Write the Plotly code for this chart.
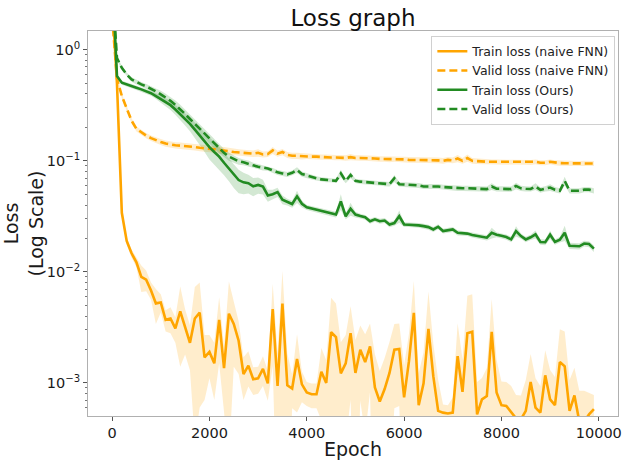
import plotly.graph_objects as go

epochs = list(range(0, 10000, 100))

train_naive = [3.0, 0.50, 0.034, 0.019, 0.0147, 0.0122, 0.0090, 0.0085, 0.0068, 0.0052,
               0.0053, 0.0037, 0.0038, 0.0031, 0.0044, 0.0032, 0.0023, 0.0038, 0.0043, 0.0017,
               0.0019, 0.0015, 0.0037, 0.00136, 0.0042, 0.0034, 0.0024, 0.0012, 0.00143, 0.00108,
               0.00110, 0.00134, 0.00099, 0.00462, 0.00094, 0.00518, 0.00095, 0.00089, 0.00164, 0.00097,
               0.00082, 0.00079, 0.00079, 0.00126, 0.00100, 0.00286, 0.00258, 0.00122, 0.00150, 0.00280,
               0.00123, 0.00199, 0.00154, 0.00213, 0.00091, 0.00068, 0.00088, 0.00123, 0.00199, 0.00202,
               0.00074, 0.00157, 0.00428, 0.00063, 0.00099, 0.00306, 0.00115, 0.00056, 0.00054, 0.00053,
               0.00054, 0.00174, 0.00083, 0.00280, 0.00289, 0.00052, 0.00071, 0.00076, 0.00289, 0.00082,
               0.00063, 0.00062, 0.00054, 0.00048, 0.00047, 0.00056, 0.00102, 0.00060, 0.00054, 0.00117,
               0.00071, 0.00063, 0.00154, 0.00141, 0.00056, 0.00077, 0.00045, 0.00045, 0.00052, 0.00058]
train_naive_std = [0.5, 0.05, 0.003, 0.0015, 0.0012, 0.0012, 0.0024, 0.0018, 0.0012, 0.0018,
                   0.0010, 0.0008, 0.0010, 0.0008, 0.0030, 0.0014, 0.0010, 0.0035, 0.0037, 0.0010,
                   0.0008, 0.0008, 0.0022, 0.0008, 0.0040, 0.0020, 0.0012, 0.0005, 0.0005, 0.0003,
                   0.0003, 0.0004, 0.0003, 0.0032, 0.0009, 0.0050, 0.0009, 0.0003, 0.0011, 0.0003,
                   0.0002, 0.0002, 0.0002, 0.0008, 0.0006, 0.0030, 0.0026, 0.0011, 0.0012, 0.0021,
                   0.0012, 0.0013, 0.0012, 0.0013, 0.0009, 0.0006, 0.0008, 0.0011, 0.0014, 0.0014,
                   0.0007, 0.0012, 0.0040, 0.0006, 0.0009, 0.0036, 0.0011, 0.0005, 0.0001, 0.0001,
                   0.0002, 0.0017, 0.0008, 0.0033, 0.0034, 0.0005, 0.0004, 0.0006, 0.0028, 0.0008,
                   0.0004, 0.0004, 0.0004, 0.0003, 0.0003, 0.0005, 0.0008, 0.0005, 0.0004, 0.0008,
                   0.0006, 0.0005, 0.0015, 0.0015, 0.0005, 0.0006, 0.0004, 0.0004, 0.0003, 0.0002]

valid_naive = [2.0, 0.55, 0.384, 0.292, 0.230, 0.194, 0.180, 0.169, 0.160, 0.153,
               0.148, 0.143, 0.140, 0.138, 0.137, 0.136, 0.134, 0.133, 0.131, 0.130,
               0.128, 0.127, 0.125, 0.124, 0.122, 0.120, 0.119, 0.118, 0.117, 0.116,
               0.118, 0.114, 0.115, 0.124, 0.116, 0.120, 0.113, 0.111, 0.111, 0.110,
               0.110, 0.109, 0.109, 0.108, 0.108, 0.107, 0.107, 0.107, 0.106, 0.108,
               0.106, 0.106, 0.106, 0.105, 0.105, 0.104, 0.104, 0.103, 0.104, 0.103,
               0.103, 0.102, 0.102, 0.102, 0.101, 0.101, 0.101, 0.101, 0.100, 0.102,
               0.101, 0.105, 0.100, 0.106, 0.100, 0.099, 0.099, 0.098, 0.098, 0.098,
               0.097, 0.097, 0.097, 0.0966, 0.0966, 0.097, 0.0965, 0.098, 0.096, 0.096,
               0.098, 0.096, 0.0955, 0.095, 0.095, 0.095, 0.0948, 0.095, 0.0946, 0.0946]
valid_naive_std = [0.2, 0.03, 0.02, 0.015, 0.012, 0.010, 0.009, 0.009, 0.009, 0.009,
                   0.009, 0.009, 0.009, 0.009, 0.009, 0.009, 0.009, 0.009, 0.009, 0.009,
                   0.009, 0.009, 0.009, 0.009, 0.009, 0.008, 0.008, 0.008, 0.008, 0.008,
                   0.009, 0.007, 0.007, 0.009, 0.007, 0.008, 0.007, 0.007, 0.007, 0.007,
                   0.006, 0.006, 0.006, 0.006, 0.006, 0.006, 0.006, 0.006, 0.006, 0.007,
                   0.006, 0.006, 0.006, 0.006, 0.006, 0.006, 0.006, 0.006, 0.006, 0.006,
                   0.006, 0.006, 0.006, 0.006, 0.006, 0.006, 0.006, 0.006, 0.006, 0.006,
                   0.006, 0.008, 0.006, 0.008, 0.006, 0.006, 0.006, 0.005, 0.005, 0.005,
                   0.005, 0.005, 0.005, 0.005, 0.005, 0.005, 0.005, 0.005, 0.005, 0.005,
                   0.005, 0.005, 0.005, 0.005, 0.005, 0.005, 0.005, 0.005, 0.005, 0.005]

train_ours = [5.0, 0.579, 0.505, 0.485, 0.471, 0.455, 0.440, 0.423, 0.406, 0.383,
              0.359, 0.338, 0.317, 0.290, 0.264, 0.238, 0.215, 0.191, 0.169, 0.150,
              0.133, 0.120, 0.109, 0.096, 0.0854, 0.075, 0.0671, 0.0640, 0.0628, 0.0590,
              0.0606, 0.0587, 0.0488, 0.0500, 0.0522, 0.0446, 0.0425, 0.0408, 0.0478, 0.0410,
              0.0381, 0.0372, 0.0363, 0.0353, 0.0344, 0.0335, 0.0328, 0.0431, 0.0317, 0.0370,
              0.0328, 0.0318, 0.0310, 0.0286, 0.0297, 0.0286, 0.0290, 0.0267, 0.0275, 0.0317,
              0.0267, 0.0266, 0.0265, 0.0262, 0.0258, 0.0253, 0.0241, 0.0255, 0.0233, 0.0237,
              0.0241, 0.0225, 0.0223, 0.0221, 0.0215, 0.0210, 0.0207, 0.0203, 0.0225, 0.0216,
              0.0211, 0.0206, 0.0196, 0.0233, 0.0210, 0.0196, 0.0205, 0.0218, 0.0186, 0.0185,
              0.0216, 0.0186, 0.0195, 0.0225, 0.0172, 0.0171, 0.0170, 0.0180, 0.0178, 0.0162]
train_ours_std = [0.5, 0.02, 0.02, 0.02, 0.02, 0.02, 0.02, 0.02, 0.02, 0.022,
                  0.025, 0.028, 0.030, 0.030, 0.030, 0.030, 0.030, 0.030, 0.030, 0.030,
                  0.030, 0.028, 0.025, 0.022, 0.020, 0.018, 0.016, 0.014, 0.012, 0.011,
                  0.010, 0.009, 0.006, 0.005, 0.005, 0.004, 0.003, 0.003, 0.006, 0.003,
                  0.002, 0.002, 0.002, 0.002, 0.002, 0.002, 0.002, 0.007, 0.002, 0.005,
                  0.002, 0.0015, 0.0015, 0.0015, 0.0015, 0.0015, 0.0015, 0.0015, 0.0015, 0.004,
                  0.0013, 0.0013, 0.0013, 0.0013, 0.0013, 0.0013, 0.0013, 0.0013, 0.0012, 0.0012,
                  0.0012, 0.0012, 0.0011, 0.0011, 0.0011, 0.0011, 0.0011, 0.0011, 0.0025, 0.0011,
                  0.0011, 0.0011, 0.0011, 0.0025, 0.0011, 0.0011, 0.0011, 0.0018, 0.0011, 0.0011,
                  0.0018, 0.0011, 0.0011, 0.0035, 0.0011, 0.0011, 0.0011, 0.0011, 0.0011, 0.0011]

valid_ours = [4.0, 0.843, 0.687, 0.600, 0.541, 0.512, 0.488, 0.468, 0.447, 0.422,
              0.397, 0.372, 0.347, 0.319, 0.292, 0.264, 0.238, 0.215, 0.194, 0.175,
              0.158, 0.143, 0.129, 0.118, 0.109, 0.104, 0.099, 0.097, 0.0946, 0.091,
              0.0884, 0.087, 0.0854, 0.082, 0.0787, 0.077, 0.0755, 0.078, 0.0825, 0.076,
              0.0735, 0.071, 0.0696, 0.068, 0.0672, 0.067, 0.066, 0.077, 0.0658, 0.0745,
              0.066, 0.0649, 0.0645, 0.0641, 0.0635, 0.0628, 0.062, 0.0616, 0.0696, 0.0616,
              0.0612, 0.061, 0.0606, 0.060, 0.0587, 0.059, 0.0588, 0.0587, 0.058, 0.0575,
              0.057, 0.0566, 0.0566, 0.0566, 0.0563, 0.056, 0.0558, 0.0556, 0.0587, 0.056,
              0.056, 0.056, 0.0556, 0.0594, 0.0565, 0.056, 0.0558, 0.0587, 0.0547, 0.056,
              0.0575, 0.055, 0.0537, 0.0658, 0.0537, 0.0537, 0.0537, 0.055, 0.055, 0.0537]
valid_ours_std = [0.4, 0.03, 0.03, 0.025, 0.025, 0.025, 0.025, 0.025, 0.025, 0.028,
                  0.030, 0.030, 0.030, 0.030, 0.028, 0.026, 0.024, 0.022, 0.020, 0.018,
                  0.016, 0.014, 0.012, 0.010, 0.009, 0.008, 0.007, 0.006, 0.006, 0.005,
                  0.005, 0.005, 0.004, 0.004, 0.004, 0.004, 0.004, 0.004, 0.005, 0.004,
                  0.004, 0.003, 0.003, 0.003, 0.003, 0.003, 0.003, 0.006, 0.003, 0.005,
                  0.003, 0.003, 0.003, 0.003, 0.003, 0.003, 0.003, 0.003, 0.005, 0.003,
                  0.003, 0.003, 0.003, 0.003, 0.003, 0.003, 0.003, 0.003, 0.003, 0.003,
                  0.003, 0.003, 0.003, 0.003, 0.003, 0.003, 0.003, 0.003, 0.004, 0.003,
                  0.003, 0.003, 0.003, 0.004, 0.003, 0.003, 0.003, 0.004, 0.003, 0.003,
                  0.004, 0.003, 0.003, 0.006, 0.003, 0.003, 0.003, 0.003, 0.003, 0.003]

series_names = ["Train loss (naive FNN)", "Valid loss (naive FNN)", "Train loss (Ours)", "Valid loss (Ours)"]
y_ticks = [1, 0.1, 0.01, 0.001]
y_tick_text = ["10<sup>0</sup>", "10<sup>\u22121</sup>", "10<sup>\u22122</sup>", "10<sup>\u22123</sup>"]
x_ticks = [0, 2000, 4000, 6000, 8000, 10000]
x_tick_text = ["0", "2000", "4000", "6000", "8000", "10000"]

ORANGE = "#FFA500"
GREEN = "#228B22"
FILL_O = "rgba(255,165,0,0.2)"
FILL_G = "rgba(34,139,34,0.2)"

series = [
    (train_naive, train_naive_std, ORANGE, FILL_O, "solid", series_names[0]),
    (valid_naive, valid_naive_std, ORANGE, FILL_O, "8px,4px", series_names[1]),
    (train_ours, train_ours_std, GREEN, FILL_G, "solid", series_names[2]),
    (valid_ours, valid_ours_std, GREEN, FILL_G, "8px,4px", series_names[3]),
]

fig = go.Figure()
for mean, std, col, fcol, dash, name in series:
    upper = [m + s for m, s in zip(mean, std)]
    lower = [max(m - s, 1e-6) for m, s in zip(mean, std)]
    fig.add_trace(go.Scatter(x=epochs, y=upper, mode="lines", line=dict(width=0, color=fcol),
                             showlegend=False, hoverinfo="skip"))
    fig.add_trace(go.Scatter(x=epochs, y=lower, mode="lines", line=dict(width=0, color=fcol),
                             fill="tonexty", fillcolor=fcol, showlegend=False, hoverinfo="skip"))

for mean, std, col, fcol, dash, name in series:
    fig.add_trace(go.Scatter(x=epochs, y=mean, mode="lines", name=name,
                             line=dict(color=col, width=2.6, dash=dash)))

minor_vals = []
for e in [1e-4, 1e-3, 1e-2, 1e-1, 1]:
    for m in range(2, 10):
        minor_vals.append(m * e)

axis_col = "#b0b0b0"
fig.update_layout(
    width=623, height=460,
    margin=dict(l=88, r=1, t=31, b=40),
    paper_bgcolor="white", plot_bgcolor="white",
    font=dict(family="DejaVu Sans", color="#1a1a1a"),
    title=dict(text="Loss graph", x=0.5, xref="paper", y=0.962, yref="container",
               yanchor="middle", font=dict(size=23, color="#111")),
    legend=dict(x=0.995, y=0.988, xanchor="right", yanchor="top", traceorder="normal",
                bgcolor="rgba(255,255,255,0.8)", bordercolor="#d0d0d0", borderwidth=1,
                font=dict(size=12.5, color="#222"), tracegroupgap=0, itemwidth=30),
    showlegend=True,
)
fig.update_xaxes(range=[-495, 10395], tickvals=x_ticks, ticktext=x_tick_text, ticks="outside", ticklen=4,
                 tickcolor="#555", showline=True, linecolor=axis_col, mirror=True,
                 showgrid=False, zeroline=False, tickfont=dict(size=14.5),
                 ticklabeloverflow="allow",
                 title=dict(text="Epoch", font=dict(size=19), standoff=4))
fig.update_yaxes(type="log", range=[-3.298, 0.169], tickvals=y_ticks, ticktext=y_tick_text,
                 ticks="outside", ticklen=4, tickcolor="#555", showline=True, linecolor=axis_col,
                 mirror=True, showgrid=False, zeroline=False, tickfont=dict(size=14.5),
                 minor=dict(tickvals=minor_vals, ticks="outside", ticklen=2, tickcolor="#777"),
                 title=dict(text="Loss<br>(Log Scale)", font=dict(size=19), standoff=6))

fig.write_html("out.html")
